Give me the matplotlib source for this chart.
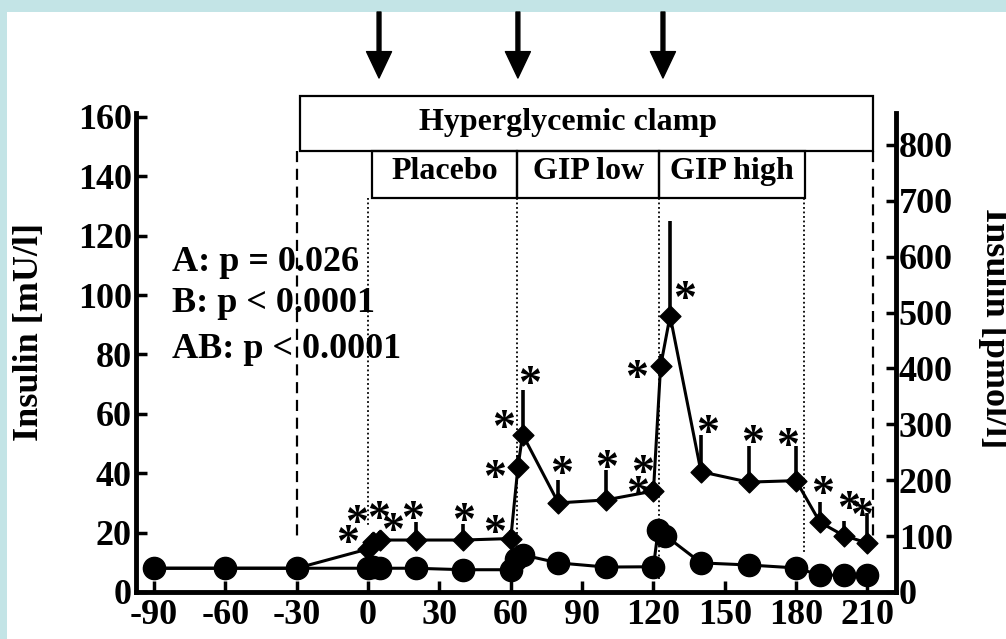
import matplotlib
matplotlib.use("Agg")
import matplotlib.pyplot as plt
from matplotlib.patches import Rectangle
from matplotlib.transforms import ScaledTranslation

plt.rcParams['font.family'] = ['Liberation Serif', 'DejaVu Serif']
plt.rcParams['font.weight'] = 'bold'

# Time axis (min) and insulin values (mU/l)
t_circle = [-90, -60, -30, 0, 2, 5, 20, 40, 60, 62, 65, 80, 100, 120, 122, 125, 140, 160, 180, 190, 200, 210]
circle_vals = [8, 8, 8, 8, 8.5, 8, 8, 7.5, 7.5, 11, 12.5, 9.8, 8.4, 8.5, 21, 19, 9.8, 9.1, 8.1, 5.7, 5.7, 5.7]

t_diamond = [-90, -60, -30, 0, 2, 5, 20, 40, 60, 63, 65, 80, 100, 120, 123, 127, 140, 160, 180, 190, 200, 210]
diamond_vals = [8, 8, 8, 14.5, 17, 17.5, 17.5, 17.5, 18, 42, 53, 30, 31, 34, 76, 93, 40.5, 37, 37.5, 23.5, 19, 16.5]
diamond_err = [0, 0, 0, 2, 3, 3, 6, 5.5, 3, 4, 15, 7.7, 10, 3, 4, 32, 12.5, 12, 11.5, 6.7, 5, 10]

# Significance marks (time, insulin level)
star_t = [-8.8, -4.8, 4.3, 10.5, 18.9, 40, 53.4, 53.4, 56.8, 68.1, 81.5, 100.5, 113.5, 115.6, 113, 133.3, 142.6, 161.5, 176.6, 191.3, 201.9, 207.7]
star_v = [20.2, 27.0, 28.2, 24.2, 28.3, 27.6, 23.6, 42.1, 58.9, 73.7, 43.4, 45.5, 36.7, 43.8, 75.8, 102.4, 57.2, 53.9, 52.9, 36.7, 31.6, 29.3]

x_ticks = [-90, -60, -30, 0, 30, 60, 90, 120, 150, 180, 210]
left_ticks = [0, 20, 40, 60, 80, 100, 120, 140, 160]
right_ticks = [0, 100, 200, 300, 400, 500, 600, 700, 800]

stats_lines = ["A: p = 0.026", "B: p < 0.0001", "AB: p < 0.0001"]
stats_v = [111.1, 97.3, 81.5]

phase_labels = ["Placebo", "GIP low", "GIP high"]
phase_edges = [1.7, 62.7, 122.4, 183.8]
arrow_t = [4.6, 63, 124]

W, H = 1006, 639
fig = plt.figure(figsize=(W / 100, H / 100), dpi=100, facecolor='#c3e4e6')
fig.patches.append(Rectangle((7 / W, 0), 1, 1 - 12 / H, transform=fig.transFigure,
                             facecolor='white', edgecolor='none', zorder=-10))

ax = fig.add_axes([136 / W, 1 - 592 / H, (896 - 136) / W, (592 - 113) / H])
ax.set_facecolor('none')
ax.set_xlim(-97.6, 222.0)
ax.set_ylim(0, 161.3)

ax2 = ax.twinx()
ax2.set_ylim(0, 857)

for a in (ax, ax2):
    a.spines['top'].set_visible(False)
ax2.spines['left'].set_visible(False)
ax2.spines['bottom'].set_visible(False)
ax.spines['right'].set_visible(False)
for sp in (ax.spines['left'], ax.spines['bottom'], ax2.spines['right']):
    sp.set_linewidth(3.5)

ax.set_xticks(x_ticks)
ax.set_xticklabels([str(v) for v in x_ticks])
ax.set_yticks(left_ticks)
ax.set_yticklabels([str(v) for v in left_ticks])
ax2.set_yticks(right_ticks)
ax2.set_yticklabels([str(v) for v in right_ticks])
ax.tick_params(axis='both', direction='in', length=8, width=2.5, labelsize=26)
ax.tick_params(axis='y', pad=3)
ax.tick_params(axis='x', pad=5)
ax2.tick_params(axis='y', direction='in', length=7, width=2.5, labelsize=26, pad=2)

# Series
ax.errorbar(t_diamond, diamond_vals, yerr=[[0] * len(diamond_err), diamond_err],
            fmt='none', ecolor='black', elinewidth=2.6, capsize=0, zorder=3)
diamond_marker = [(0, 1), (1, 0), (0, -1), (-1, 0), (0, 1)]
ax.plot(t_diamond, diamond_vals, color='black', lw=2.2, marker=diamond_marker,
        markersize=15, markerfacecolor='black', markeredgecolor='black', zorder=4)
ax.plot(t_circle, circle_vals, color='black', lw=2.2, marker='o',
        markersize=16, markerfacecolor='black', markeredgecolor='black', zorder=5)

# Asterisks, shifted so the glyph centre sits on the point
star_fs = 33
star_tr = ax.transData + ScaledTranslation(0, -0.28 * star_fs / 72, fig.dpi_scale_trans)
for t, v in zip(star_t, star_v):
    ax.text(t, v, "*", fontsize=star_fs, fontweight='bold', ha='center', va='center',
            transform=star_tr, zorder=6)

# Clamp and phase boxes
ax.add_patch(Rectangle((-28.5, 148.5), 212.4 + 28.5, 167.0 - 148.5, fill=False,
                       edgecolor='black', lw=1.6, clip_on=False))
ax.text(83.9, 158.2, "Hyperglycemic clamp", fontsize=23, ha='center', va='center')
for i, lab in enumerate(phase_labels):
    x0, x1 = phase_edges[i], phase_edges[i + 1]
    ax.add_patch(Rectangle((x0, 132.7), x1 - x0, 148.5 - 132.7, fill=False,
                           edgecolor='black', lw=1.6, clip_on=False))
    ax.text((x0 + x1) / 2, 141.7, lab, fontsize=23, ha='center', va='center')

# Clamp boundaries (dashed) and phase boundaries (dotted)
ax.plot([-29.9, -29.9], [148.5, 16.8], color='black', lw=1.6, ls=(0, (5, 3)), zorder=2)
ax.plot([212.2, 212.2], [148.5, 19.0], color='black', lw=1.6, ls=(0, (5, 3)), zorder=2)
for t, ybot in zip([0, 62.5, 122.5, 183.5], [22, 10, 4, 13]):
    ax.plot([t, t], [132.7, ybot], color='black', lw=1.3, ls=(0, (1, 1.5)), zorder=2)

# Bolus arrows
for t in arrow_t:
    ax.annotate("", xy=(t, 1 - 78 / H), xytext=(t, 1 - 12 / H),
                xycoords=('data', 'figure fraction'), textcoords=('data', 'figure fraction'),
                arrowprops=dict(width=2.8, headwidth=18, headlength=19, shrink=0,
                                facecolor='black', edgecolor='black'))

for s, v in zip(stats_lines, stats_v):
    ax.text(-82.4, v, s, fontsize=26, ha='left', va='center')

fig.text(30 / W, 1 - 332 / H, "Insulin [mU/l]", rotation=90, fontsize=26,
         ha='center', va='center')
fig.text(994 / W, 1 - 328 / H, "Insulin [pmol/l]", rotation=270, fontsize=26,
         ha='center', va='center')

fig.savefig("out.png", dpi=100, facecolor=fig.get_facecolor())
